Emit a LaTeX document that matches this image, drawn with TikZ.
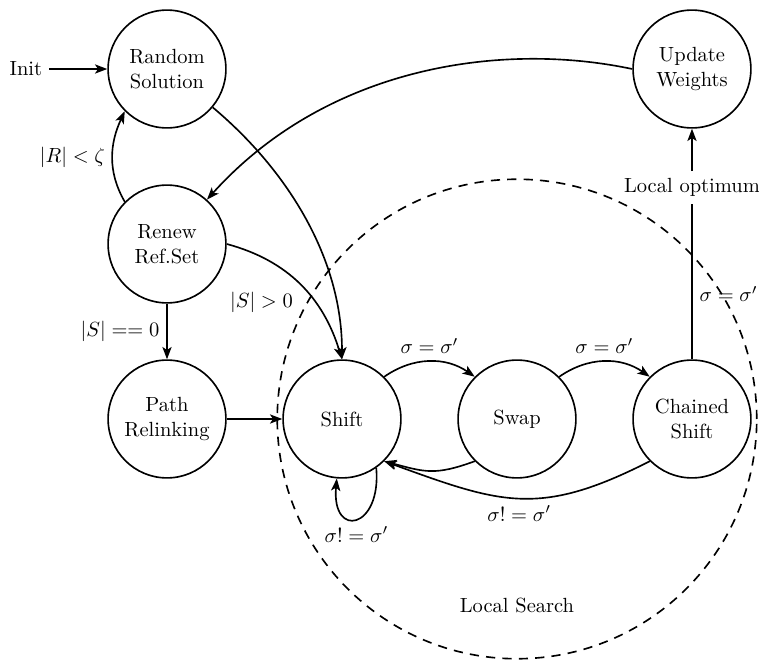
\documentclass[tikz,border=0pt]{standalone}
\usepackage{tikz}
\usetikzlibrary{arrows.meta}

\begin{document}
\begin{tikzpicture}[
    >={Stealth[length=6pt,width=4.5pt,inset=1.5pt]},
    statenode/.style={circle,draw,thick,minimum size=2.02cm,align=center,inner sep=1pt},
    link/.style={->,thick}
  ]
    \useasboundingbox (-2.863,1.183) rectangle (10.149,-10.132);
    \node[statenode] (random) at (0,0) {Random\\Solution};
    \node[statenode] (renew) at (0,-3) {Renew\\Ref.Set};
    \node[statenode] (path) at (0,-6) {Path\\Relinking};
    \node[statenode] (shift) at (3,-6) {Shift};
    \node[statenode] (swap) at (6,-6) {Swap};
    \node[statenode] (chained) at (9,-6) {Chained\\Shift};
    \node[statenode] (update) at (9,0) {Update\\Weights};
    \node (init) at (-2.42,0) {Init};
    \node (localopt) at (9,-2.03) {Local optimum};
    \node (search) at (6,-9.19) {Local Search};
    \draw[thick,dash pattern=on 4.5pt off 3.5pt] (swap) circle (4.11cm);
    \draw[link] (init) -- (random);
    \draw[link] (random) to[out=-40,in=90,looseness=0.9] (shift.north);
    \draw[link] (renew.east) to[out=-15,in=107] node[pos=0.5,below left] {$|S| > 0$} (shift.north);
    \draw[link] (renew.north west) to[out=120,in=-115] node[left] {$|R| < \zeta$} (random.south west);
    \draw[link] (renew) -- node[left] {$|S| == 0$} (path);
    \draw[link] (path) -- (shift);
    \draw[link] (shift.north east) to[out=35,in=145] node[above] {$\sigma = \sigma'$} (swap.north west);
    \draw[link] (swap.north east) to[out=35,in=145] node[above] {$\sigma = \sigma'$} (chained.north west);
    \draw[link] (swap.south west) to[out=-160,in=-15,looseness=1.2] (shift.south east);
    \draw[link] (chained.south west) to[out=-153,in=-20,looseness=1.2] node[below] {$\sigma! = \sigma'$} (shift.south east);
    \draw[link] (shift.-55) .. controls +(-85:1.05) and +(-95:1.05) .. node[below] {$\sigma! = \sigma'$} (shift.-95);
    \draw[thick] (chained) -- node[pos=0.42,right] {$\sigma = \sigma'$} (localopt);
    \draw[link] (localopt) -- (update);
    \draw[link] (update.west) to[out=168,in=48,out looseness=0.77,in looseness=1.03] (renew);
\end{tikzpicture}
\end{document}
